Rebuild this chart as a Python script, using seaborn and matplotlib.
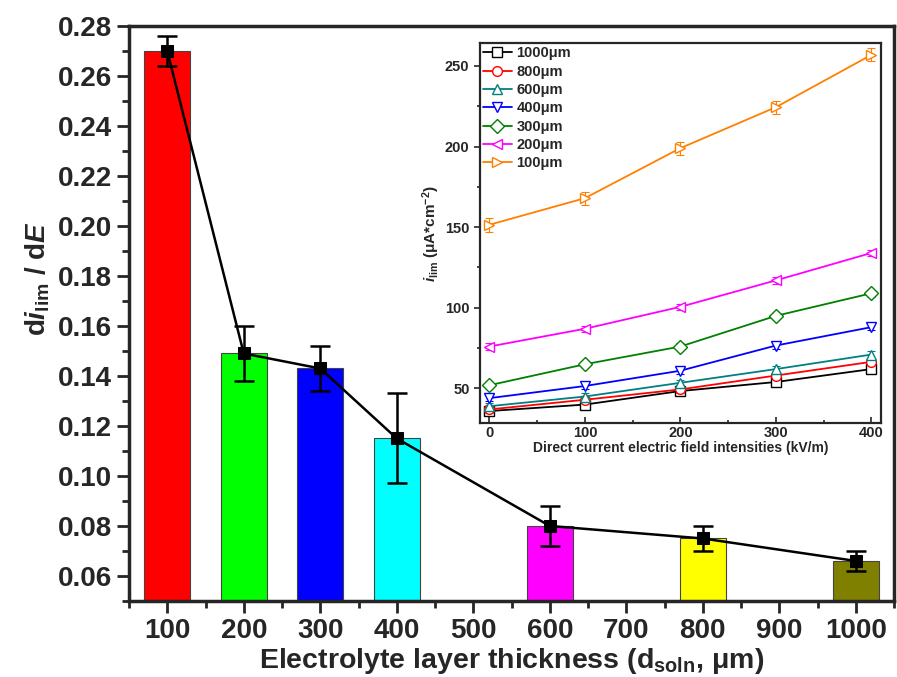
import matplotlib
matplotlib.use("Agg")
import matplotlib.pyplot as plt
from matplotlib.ticker import MultipleLocator, FormatStrFormatter
import seaborn as sns

# 主图数据：电解液层厚度 vs di_lim/dE
thickness = [100, 200, 300, 400, 600, 800, 1000]
slope = [0.270, 0.149, 0.143, 0.115, 0.080, 0.075, 0.066]
slope_err = [0.006, 0.011, 0.009, 0.018, 0.008, 0.005, 0.004]
bar_colors = ['#ff0000', '#00ff00', '#0000ff', '#00ffff', '#ff00ff', '#ffff00', '#808000']

# 插图数据：直流电场强度 vs i_lim
field = [0, 100, 200, 300, 400]
series_names = ['1000\u03bcm', '800\u03bcm', '600\u03bcm', '400\u03bcm', '300\u03bcm', '200\u03bcm', '100\u03bcm']
ilim_1000 = [36, 40, 48.4, 54, 62]
ilim_800 = [37, 43, 49.4, 58, 66.5]
ilim_600 = [39, 45, 53.5, 62, 71]
ilim_400 = [44, 51.5, 61, 76.6, 88]
ilim_300 = [52, 65, 76, 95, 109]
ilim_200 = [76, 87, 100.6, 117, 134]
ilim_100 = [151.5, 168, 199, 224.4, 256.8]
ilim_err_100 = [4.4, 4.0, 4.0, 4.0, 4.0]
ilim_err_other = [2, 2, 2, 2, 2]
line_colors = ['#000000', '#ff0000', '#008080', '#0000ff', '#008000', '#ff00ff', '#ff8000']
line_markers = ['s', 'o', '^', 'v', 'D', '<', '>']

sns.set_style("ticks")
plt.rcParams['font.family'] = ['Liberation Sans', 'DejaVu Sans']
plt.rcParams['font.weight'] = 'bold'
plt.rcParams['axes.labelweight'] = 'bold'
plt.rcParams['mathtext.fontset'] = 'custom'
plt.rcParams['mathtext.rm'] = 'Liberation Sans:bold'
plt.rcParams['mathtext.it'] = 'Liberation Sans:italic:bold'
plt.rcParams['mathtext.bf'] = 'Liberation Sans:bold'

fig = plt.figure(figsize=(8.97, 6.77), dpi=100)
ax = fig.add_axes([0.1438, 0.1123, 0.853, 0.8493])

# 柱状图
sns.barplot(x=thickness, y=slope, hue=[str(t) for t in thickness], palette=bar_colors,
            native_scale=True, width=0.6, errorbar=None, legend=False,
            edgecolor='#444444', linewidth=0.8, saturation=1, ax=ax)

# 折线 + 误差棒
sns.lineplot(x=thickness, y=slope, color='k', marker='s', markersize=9,
             markeredgecolor='k', linewidth=1.8, errorbar=None, ax=ax)
ax.errorbar(thickness, slope, yerr=slope_err, fmt='none', ecolor='k',
            capsize=7, elinewidth=1.8, capthick=1.8, zorder=5)

ax.set_xlim(50, 1050)
ax.set_ylim(0.05, 0.28)
ax.xaxis.set_major_locator(MultipleLocator(100))
ax.xaxis.set_minor_locator(MultipleLocator(50))
ax.yaxis.set_major_locator(MultipleLocator(0.02))
ax.yaxis.set_minor_locator(MultipleLocator(0.01))
ax.yaxis.set_major_formatter(FormatStrFormatter('%.2f'))
ax.xaxis.set_major_formatter(FormatStrFormatter('%d'))
ax.tick_params(which='major', direction='out', length=8.5, width=2, labelsize=20, pad=4)
ax.tick_params(which='minor', direction='out', length=5, width=2)
for lab in ax.get_xticklabels() + ax.get_yticklabels():
    lab.set_fontweight('bold')
for sp in ax.spines.values():
    sp.set_linewidth(2.5)
    sp.set_visible(True)

ax.set_xlabel(r'Electrolyte layer thickness (d$_{\mathrm{soln}}$, $\mathrm{\mu}$m)',
              fontsize=20.5, fontweight='bold', labelpad=1)
ax.set_ylabel(r'd$\mathit{i}_{\mathrm{lim}}$ / d$\mathit{E}$', fontsize=20,
              fontweight='bold')
ax.yaxis.set_label_coords(-0.1, 0.56)

# 插图
ins = fig.add_axes([0.535, 0.375, 0.447, 0.561])
all_series = [ilim_1000, ilim_800, ilim_600, ilim_400, ilim_300, ilim_200, ilim_100]
for name, vals, c, m in zip(series_names, all_series, line_colors, line_markers):
    err = ilim_err_100 if name.startswith('100\u03bc') else ilim_err_other
    ins.errorbar(field, vals, yerr=err, fmt='none', ecolor=c, capsize=3,
                 elinewidth=0.8, capthick=0.8)
    sns.lineplot(x=field, y=vals, color=c, marker=m, markersize=7,
                 markerfacecolor='white', markeredgecolor=c, markeredgewidth=1,
                 linewidth=1.3, errorbar=None, label=name, ax=ins)

ins.set_xlim(-10, 410)
ins.set_ylim(28.5, 264)
ins.xaxis.set_major_locator(MultipleLocator(100))
ins.xaxis.set_minor_locator(MultipleLocator(50))
ins.yaxis.set_major_locator(MultipleLocator(50))
ins.yaxis.set_minor_locator(MultipleLocator(25))
ins.tick_params(axis='x', which='major', direction='in', length=4, width=1.2,
                labelsize=10.5, pad=2)
ins.tick_params(axis='x', which='minor', direction='in', length=2.5, width=1.2)
ins.tick_params(axis='y', which='major', direction='out', length=4, width=1.2,
                labelsize=10.5)
ins.tick_params(axis='y', which='minor', direction='out', length=2.5, width=1.2)
for lab in ins.get_xticklabels() + ins.get_yticklabels():
    lab.set_fontweight('bold')
for sp in ins.spines.values():
    sp.set_linewidth(1.6)
    sp.set_visible(True)

ins.set_xlabel('Direct current electric field intensities (kV/m)', fontsize=10,
               fontweight='bold', labelpad=0.5)
ins.set_ylabel(r'$\mathit{i}_{\mathrm{lim}}$ ($\mathrm{\mu}$A*cm$^{\mathrm{-2}}$)',
               fontsize=11, labelpad=2)

leg = ins.legend(loc='upper left', frameon=False, fontsize=10.5, handlelength=2.0,
                 labelspacing=0.3, borderaxespad=0.1, borderpad=0.1, handletextpad=0.3)
for t in leg.get_texts():
    t.set_fontweight('bold')

fig.savefig('out.png', dpi=100)
